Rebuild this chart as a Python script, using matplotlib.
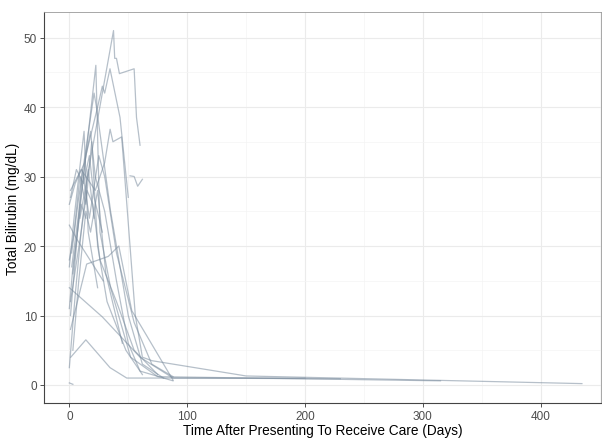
import matplotlib
matplotlib.use("Agg")
import matplotlib.pyplot as plt
from matplotlib.ticker import MultipleLocator

plt.rcParams['font.family'] = ['Liberation Sans', 'DejaVu Sans']

# Patient trajectories: days after presenting, total bilirubin (mg/dL)
p01_days = [9, 37.5, 38.5, 40, 42.5, 55, 57, 60]
p01_bili = [24, 51, 47, 47, 44.8, 45.5, 38.5, 34.5]
p02_days = [2, 12, 22.5, 26, 35, 52, 75, 315]
p02_bili = [17, 30, 46, 22, 14, 4, 1.2, 0.6]
p03_days = [3, 14, 24, 28, 30, 34.5, 43, 50]
p03_bili = [16, 33, 40, 43, 42, 45.5, 38.5, 27]
p04_days = [1, 10, 22, 30, 34.6, 37, 44.4, 47, 56, 62, 70, 150, 435]
p04_bili = [28, 31, 28, 32, 36.8, 35, 35.7, 30, 10, 4, 3.5, 1.3, 0.2]
p05_days = [1, 14.7, 33, 42, 53, 66, 88]
p05_bili = [8, 17.4, 18.5, 20, 10.7, 7, 0.7]
p06_days = [0, 28, 60, 88, 230]
p06_bili = [14, 9.8, 4, 1, 0.9]
p07_days = [0, 3]
p07_bili = [0.3, 0.1]
p08_days = [1.2, 14, 34.5, 48.7, 200]
p08_bili = [4, 6.5, 2.5, 1.0, 1.0]
p09_days = [51.5, 55, 58, 62]
p09_bili = [30.1, 30.0, 28.6, 29.6]
p10_days = [0, 5, 13, 18, 22, 30, 40, 50, 60, 88]
p10_bili = [26, 29, 32, 36.5, 30, 25, 15, 6, 2, 0.6]
p11_days = [1, 10, 15, 20, 26, 40, 55, 75]
p11_bili = [12, 22, 28, 26, 18, 12, 5, 1.5]
p12_days = [0, 6.3, 28.7]
p12_bili = [23, 21, 15]
p13_days = [2, 8, 15, 21, 23, 35, 50, 62, 80]
p13_bili = [19, 27, 35, 42, 40, 25, 10, 3, 1]
p14_days = [1, 6, 11, 17, 25, 30, 40, 55, 70, 88]
p14_bili = [10, 20, 31, 24, 33, 30, 19, 9, 3, 1.2]
p15_days = [0, 4, 9, 14, 19, 24, 32, 48, 62]
p15_bili = [18, 22, 30, 26, 35, 20, 12, 5, 1.5]
p16_days = [3, 8, 14, 18, 24, 31, 45]
p16_bili = [5, 15, 25, 22, 28, 16, 6]
p17_days = [0, 5, 10, 16, 21]
p17_bili = [2.5, 13, 22, 31, 24]
p18_days = [1, 6, 12, 17, 21, 28]
p18_bili = [27, 31, 29, 33, 27, 22]
p19_days = [0, 3, 10, 14]
p19_bili = [11, 17, 26, 24]
p20_days = [0, 4, 8, 12.5, 16, 24]
p20_bili = [17, 24, 30, 36.5, 22, 14]

patients = [
    (p01_days, p01_bili), (p02_days, p02_bili), (p03_days, p03_bili),
    (p04_days, p04_bili), (p05_days, p05_bili), (p06_days, p06_bili),
    (p07_days, p07_bili), (p08_days, p08_bili), (p09_days, p09_bili),
    (p10_days, p10_bili), (p11_days, p11_bili), (p12_days, p12_bili),
    (p13_days, p13_bili), (p14_days, p14_bili), (p15_days, p15_bili),
    (p16_days, p16_bili), (p17_days, p17_bili), (p18_days, p18_bili),
    (p19_days, p19_bili), (p20_days, p20_bili),
]

x_ticks = [0, 100, 200, 300, 400]
y_ticks = [0, 10, 20, 30, 40, 50]

fig = plt.figure(figsize=(6.02, 4.39), dpi=100)
ax = fig.add_axes([44/602, 1-404/439, (601-44)/602, (404-13)/439])

for d, b in patients:
    ax.plot(d, b, color='#7a8c9e', alpha=0.55, lw=0.9)

ax.set_xlim(-21.5, 451.2)
ax.set_ylim(-2.59, 53.67)
ax.set_xticks(x_ticks)
ax.set_yticks(y_ticks)
ax.xaxis.set_minor_locator(MultipleLocator(50))
ax.yaxis.set_minor_locator(MultipleLocator(5))
ax.grid(which='major', color='#ebebeb', lw=0.8)
ax.grid(which='minor', color='#f4f4f4', lw=0.5)
ax.set_axisbelow(True)
ax.tick_params(which='minor', length=0)
ax.tick_params(which='major', length=3, width=0.6, color='#333333',
               labelcolor='#4d4d4d', labelsize=8.5, pad=2)
for s in ['left', 'bottom']:
    ax.spines[s].set_color('#444444')
    ax.spines[s].set_linewidth(0.8)
for s in ['top', 'right']:
    ax.spines[s].set_color('#999999')
    ax.spines[s].set_linewidth(0.6)

ax.set_xlabel('Time After Presenting To Receive Care (Days)', fontsize=9.8, color='black', labelpad=1)
ax.set_ylabel('Total Bilirubin (mg/dL)', fontsize=9.8, color='black', labelpad=3)

fig.savefig('out.png', dpi=100)
